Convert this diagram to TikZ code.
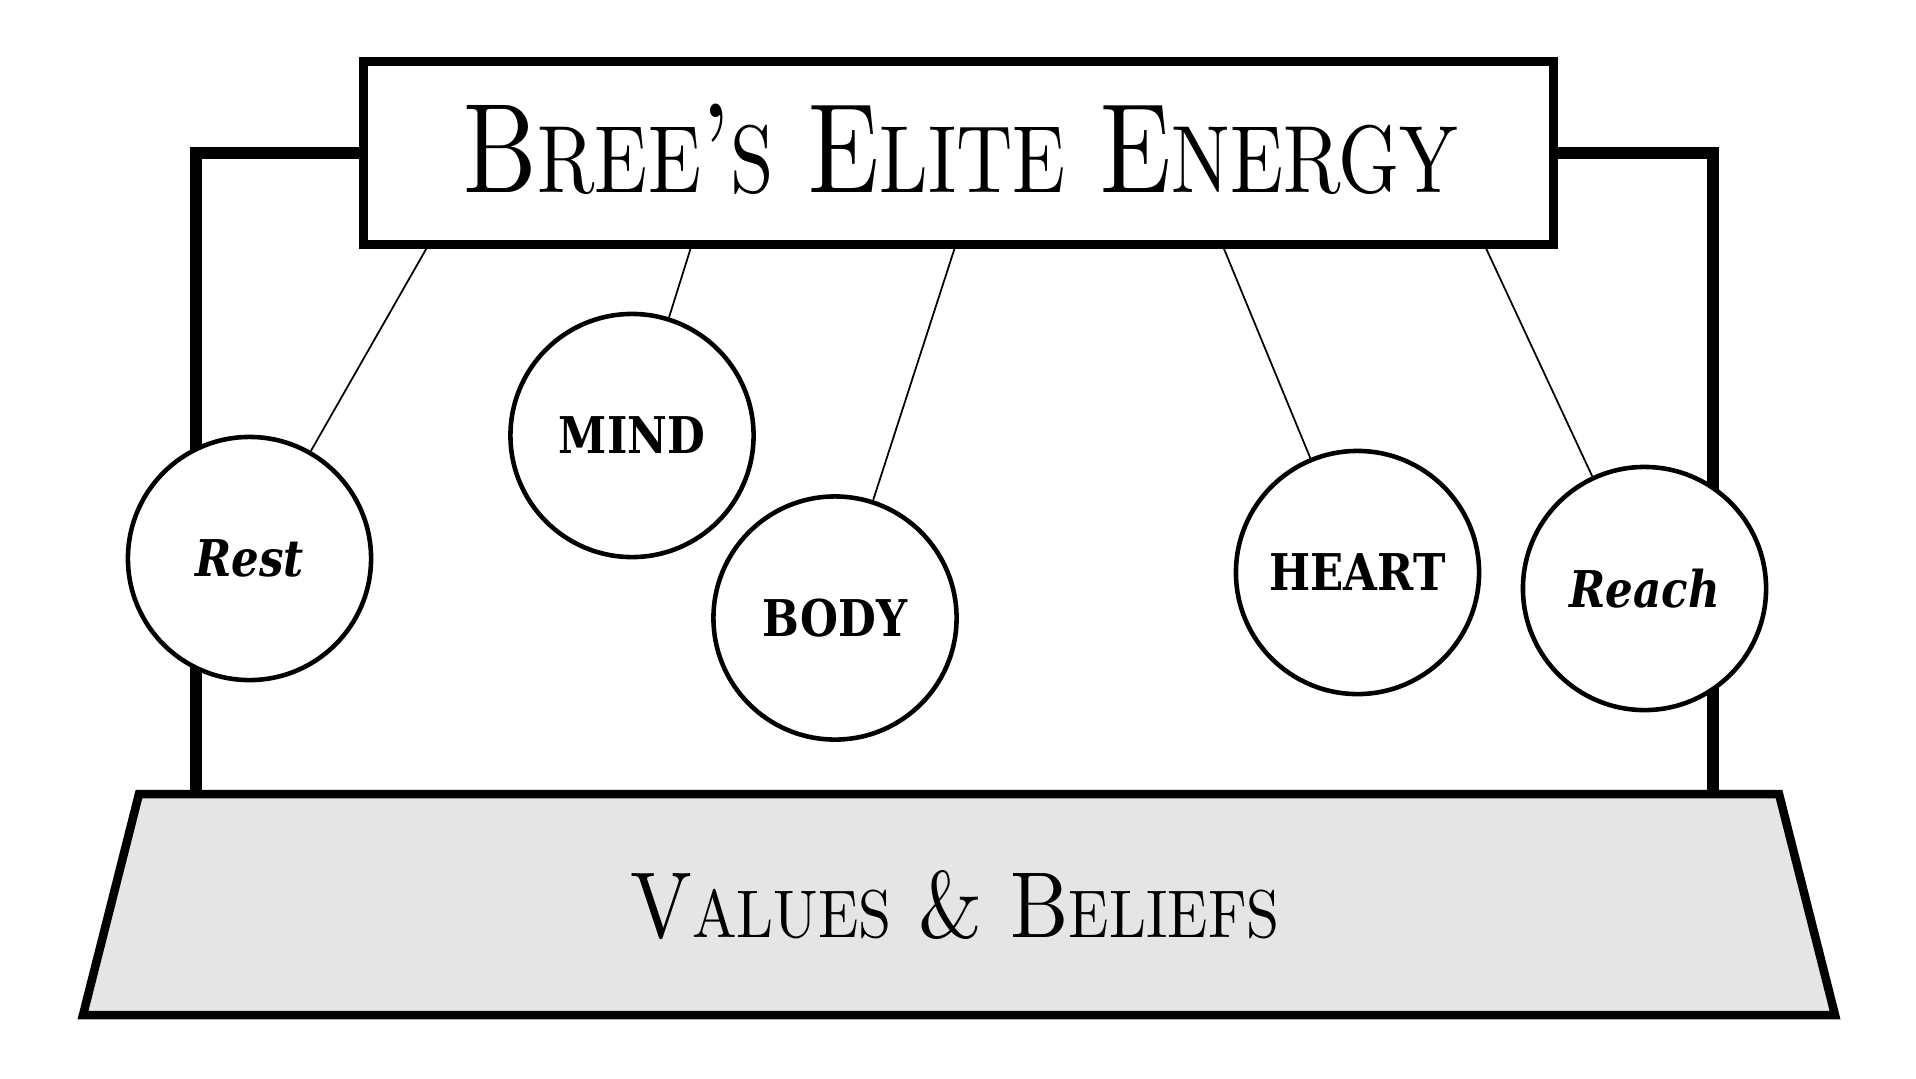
\documentclass[tikz,border=0pt]{standalone}
\usepackage{fontspec}
\usepackage{graphicx}
\newfontfamily\labfont[FakeStretch=0.86]{DejaVu Serif}
\newcommand{\fakesc}[2][0.75]{\scalebox{#1}{#2}}
\definecolor{basegray}{HTML}{E5E5E5}
\begin{document}
\begin{tikzpicture}[x=0.01cm,y=-0.01cm,
  frameline/.style={line width=3.27pt},
  titlebox/.style={draw,line width=2.56pt,fill=white,minimum width=11.9cm,minimum height=1.825cm,inner sep=0pt},
  basebox/.style={draw,line width=2.42pt,fill=basegray,line join=miter},
  ball/.style={draw,circle,line width=1.3pt,fill=white,minimum size=2.43cm,inner sep=0pt,
    font=\labfont\fontsize{14.4}{16}\selectfont\bfseries},
  string/.style={line width=0.5pt},
  bigtext/.style={anchor=base,inner sep=0pt}]
\useasboundingbox (0,0) rectangle (1916,1078);

% title box
\node[titlebox] (title) at (958.5,152.75) {};

% frame
\coordinate (fl) at (196,794);
\coordinate (fr) at (1713,794);
\draw[frameline] (title.west) -| (fl);
\draw[frameline] (title.east) -| (fr);
\node[titlebox] at (title) {};

% base
\draw[basebox] (139,794) -- (1779,794) -- (1835,1015) -- (83,1015) -- cycle;
\node[bigtext] (values) at (955,937)
  {\resizebox{6.49cm}{0.67cm}{V\fakesc[0.72]{ALUES} \& B\fakesc[0.72]{ELIEFS}}};

% title text
\node[bigtext] (titletext) at (961,192)
  {\resizebox{9.94cm}{0.884cm}{B\fakesc{REE}'\fakesc{S} E\fakesc{LITE} E\fakesc{NERGY}}};

% balls
\node[ball] (rest)  at (249.5,558.5) {\itshape Rest};
\node[ball] (mind)  at (632,435.5)   {MIND};
\node[ball] (body)  at (835,618)     {BODY};
\node[ball] (heart) at (1357.5,572.5){HEART};
\node[ball] (reach) at (1644.5,588.5){\itshape Reach};

% strings
\coordinate (s1) at (429,244);
\coordinate (s2) at (692,244);
\coordinate (s3) at (956,244);
\coordinate (s4) at (1222,244);
\coordinate (s5) at (1484,244);
\draw[string] (s1) -- (rest);
\draw[string] (s2) -- (mind);
\draw[string] (s3) -- (body);
\draw[string] (s4) -- (heart);
\draw[string] (s5) -- (reach);
\end{tikzpicture}
\end{document}
